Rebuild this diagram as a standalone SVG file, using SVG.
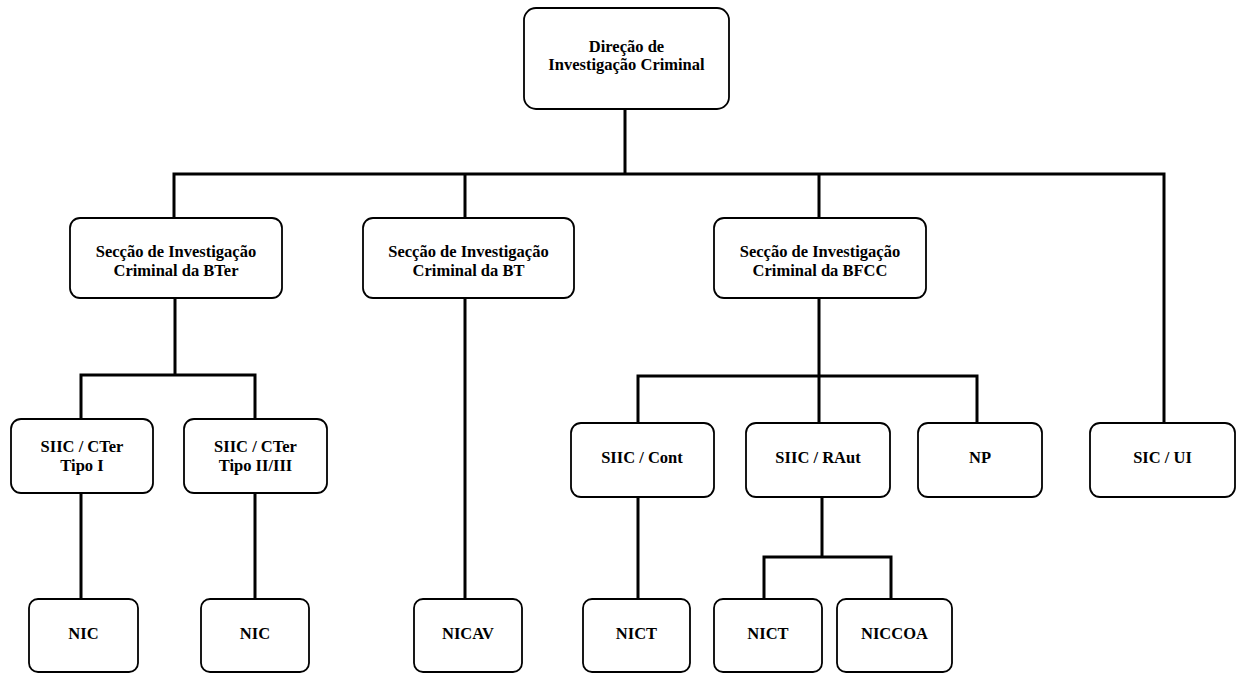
<svg xmlns="http://www.w3.org/2000/svg" width="1243" height="673" viewBox="0 0 1243 673">
<style>
.box{fill:#fff;stroke:#000;stroke-width:1.8}
.t{font-family:"Liberation Serif","Times New Roman",serif;font-weight:bold;font-size:16.5px;fill:#000;text-anchor:middle}
.c{fill:none;stroke:#000;stroke-width:3;stroke-linecap:square}
</style>
<rect width="1243" height="673" fill="#fff"/>
<g id="connectors">
<path class="c" d="M625 110V174M174 174H1164M174 174V218M465 174V218M819 174V218M1164 174V423"/>
<path class="c" d="M175 298V375M81 375H255M81 375V419M255 375V419M81 493V599M255 493V599"/>
<path class="c" d="M465 298V599"/>
<path class="c" d="M819 298V423M638 376H977M638 376V421M977 376V421M638 497V599"/>
<path class="c" d="M822 497V557M764 557H891M764 557V599M891 557V599"/>
</g>
<g id="n-dic"><rect class="box" x="524" y="8" width="205" height="101" rx="12"/><text class="t" x="626.5" y="52">Direção de</text><text class="t" x="626.5" y="70">Investigação Criminal</text></g>
<g id="n-bter"><rect class="box" x="70" y="218" width="212" height="80" rx="10"/><text class="t" x="176" y="257">Secção de Investigação</text><text class="t" x="176" y="276">Criminal da BTer</text></g>
<g id="n-bt"><rect class="box" x="363" y="218" width="211" height="80" rx="10"/><text class="t" x="468.5" y="257">Secção de Investigação</text><text class="t" x="468.5" y="276">Criminal da BT</text></g>
<g id="n-bfcc"><rect class="box" x="714" y="218" width="212" height="80" rx="10"/><text class="t" x="820" y="257">Secção de Investigação</text><text class="t" x="820" y="276">Criminal da BFCC</text></g>
<g id="n-siic1"><rect class="box" x="11" y="419" width="142" height="74" rx="10"/><text class="t" x="82" y="452">SIIC / CTer</text><text class="t" x="82" y="471">Tipo I</text></g>
<g id="n-siic2"><rect class="box" x="184" y="419" width="143" height="74" rx="10"/><text class="t" x="255.5" y="452">SIIC / CTer</text><text class="t" x="255.5" y="471">Tipo II/III</text></g>
<g id="n-cont"><rect class="box" x="571" y="423" width="143" height="74" rx="10"/><text class="t" x="642" y="463">SIIC / Cont</text></g>
<g id="n-raut"><rect class="box" x="746" y="423" width="144" height="74" rx="10"/><text class="t" x="818" y="463">SIIC / RAut</text></g>
<g id="n-np"><rect class="box" x="918" y="423" width="124" height="74" rx="10"/><text class="t" x="980" y="463">NP</text></g>
<g id="n-sicui"><rect class="box" x="1090" y="423" width="145" height="74" rx="10"/><text class="t" x="1162.5" y="463">SIC / UI</text></g>
<g id="n-nic1"><rect class="box" x="29" y="599" width="109" height="73" rx="9"/><text class="t" x="83.5" y="639">NIC</text></g>
<g id="n-nic2"><rect class="box" x="201" y="599" width="108" height="73" rx="9"/><text class="t" x="255" y="639">NIC</text></g>
<g id="n-nicav"><rect class="box" x="414" y="599" width="108" height="73" rx="9"/><text class="t" x="468" y="639">NICAV</text></g>
<g id="n-nict1"><rect class="box" x="583" y="599" width="107" height="73" rx="9"/><text class="t" x="636.5" y="639">NICT</text></g>
<g id="n-nict2"><rect class="box" x="714" y="599" width="108" height="73" rx="9"/><text class="t" x="768" y="639">NICT</text></g>
<g id="n-niccoa"><rect class="box" x="837" y="599" width="115" height="73" rx="9"/><text class="t" x="894.5" y="639">NICCOA</text></g>
</svg>
